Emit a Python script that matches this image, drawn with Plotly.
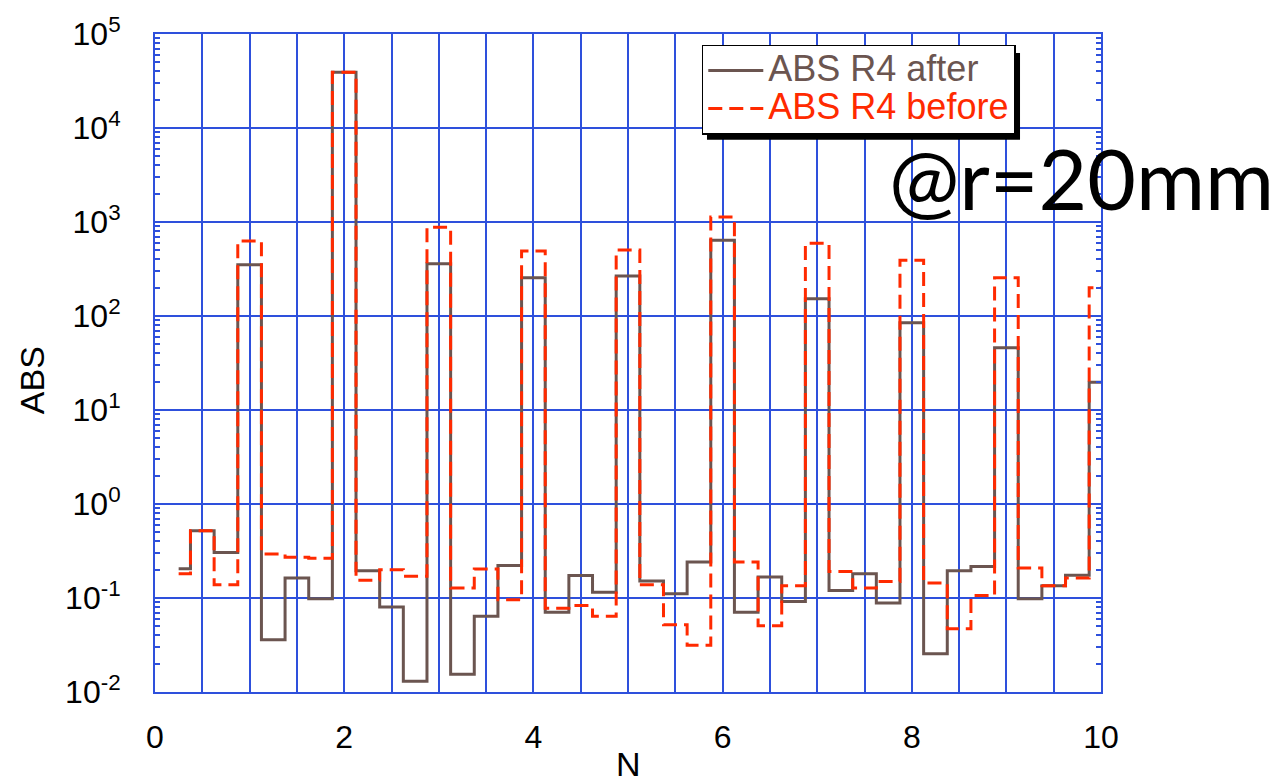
import plotly.graph_objects as go

# Harmonic number N and the absolute harmonic amplitude (ABS, R4) at r = 20 mm
n_values = [0.25, 0.5, 0.75, 1.0, 1.25, 1.5, 1.75, 2.0, 2.25, 2.5,
            2.75, 3.0, 3.25, 3.5, 3.75, 4.0, 4.25, 4.5, 4.75, 5.0,
            5.25, 5.5, 5.75, 6.0, 6.25, 6.5, 6.75, 7.0, 7.25, 7.5,
            7.75, 8.0, 8.25, 8.5, 8.75, 9.0, 9.25, 9.5, 9.75, 10.0]

abs_after = [0.205, 0.52, 0.305, 350, 0.036, 0.163, 0.098, 39200, 0.195, 0.080,
             0.013, 360, 0.0154, 0.064, 0.222, 256, 0.0704, 0.174, 0.115, 267,
             0.152, 0.111, 0.241, 640, 0.0704, 0.167, 0.092, 153, 0.12, 0.181,
             0.0885, 85, 0.0255, 0.195, 0.216, 46, 0.098, 0.135, 0.175, 19.7]

abs_before = [0.181, 0.52, 0.138, 627, 0.293, 0.272, 0.265, 39200, 0.154, 0.2,
              0.17, 877, 0.128, 0.203, 0.096, 491, 0.0776, 0.083, 0.064, 503,
              0.138, 0.052, 0.0315, 1127, 0.241, 0.0508, 0.135, 593, 0.191, 0.128,
              0.150, 392, 0.144, 0.047, 0.106, 256, 0.208, 0.135, 0.163, 200]

y_tick_vals = [1e-2, 1e-1, 1e0, 1e1, 1e2, 1e3, 1e4, 1e5]
y_tick_text = ["10<sup>-2</sup>", "10<sup>-1</sup>", "10<sup>0</sup>", "10<sup>1</sup>",
               "10<sup>2</sup>", "10<sup>3</sup>", "10<sup>4</sup>", "10<sup>5</sup>"]

BROWN = "#6b5550"
RED = "#ff2a00"
BLUE = "#2e50dc"
FONT = "Liberation Sans, Arial, Helvetica, sans-serif"

fig = go.Figure()
fig.add_trace(go.Scatter(
    x=n_values, y=abs_after, mode="lines", line_shape="hvh",
    line=dict(color=BROWN, width=3),
    name=f'<span style="color:{BROWN};font-size:36px">ABS R4 after</span>',
))
fig.add_trace(go.Scatter(
    x=n_values, y=abs_before, mode="lines", line_shape="hvh",
    line=dict(color=RED, width=3, dash="14px,7px"),
    name=f'<span style="color:{RED};font-size:36px">ABS R4 before</span>',
))

minor_y = [m * 10.0 ** k for k in range(-2, 5) for m in range(2, 10)]

fig.update_xaxes(
    range=[0, 10], dtick=2, tick0=0,
    showgrid=True, gridcolor=BLUE, gridwidth=1.8,
    minor=dict(dtick=0.5, tick0=0, showgrid=True, gridcolor=BLUE, gridwidth=1.8, ticks=""),
    ticks="", showline=True, linecolor=BLUE, linewidth=2, mirror=True,
    zeroline=False, ticklabelstandoff=16,
    tickfont=dict(family=FONT, size=32, color="black"),
)
fig.update_yaxes(
    type="log", range=[-2, 5],
    tickmode="array", tickvals=y_tick_vals, ticktext=y_tick_text,
    showgrid=True, gridcolor=BLUE, gridwidth=1.8,
    ticks="inside", ticklen=10, tickcolor=BLUE, tickwidth=2,
    minor=dict(tickmode="array", tickvals=minor_y, ticks="inside", ticklen=5,
               tickcolor=BLUE, tickwidth=2, showgrid=False),
    showline=True, linecolor=BLUE, linewidth=2, mirror="ticks",
    zeroline=False, ticklabelstandoff=26,
    tickfont=dict(family=FONT, size=32, color="black"),
)

# drop shadow behind the legend box (legend is drawn on top of it)
fig.add_shape(type="rect", xref="paper", yref="paper",
              x0=0.5835, x1=0.9144, y0=0.8394, y1=0.9712,
              fillcolor="black", line=dict(width=0), layer="above")

fig.update_layout(
    width=1275, height=784,
    margin=dict(l=155, r=174, t=32, b=92),
    paper_bgcolor="white", plot_bgcolor="white",
    showlegend=True,
    legend=dict(
        x=0.578, y=0.9835, xanchor="left", yanchor="top",
        bgcolor="white", bordercolor="black", borderwidth=1.5,
        font=dict(family=FONT, size=27),
        itemwidth=55, tracegroupgap=0,
    ),
    annotations=[
        dict(text="@r=20mm", xref="paper", yref="paper", x=0.774, y=0.782,
             xanchor="left", yanchor="middle", showarrow=False,
             font=dict(family="Lato, sans-serif", size=84, color="black")),
        dict(text="ABS", xref="paper", yref="paper", x=-0.130, y=0.474,
             xanchor="center", yanchor="middle", textangle=-90, showarrow=False,
             font=dict(family=FONT, size=34, color="black")),
        dict(text="N", xref="paper", yref="paper", x=0.5, y=-0.109,
             xanchor="center", yanchor="middle", showarrow=False,
             font=dict(family=FONT, size=34, color="black")),
    ],
)

fig.write_html("out.html")
